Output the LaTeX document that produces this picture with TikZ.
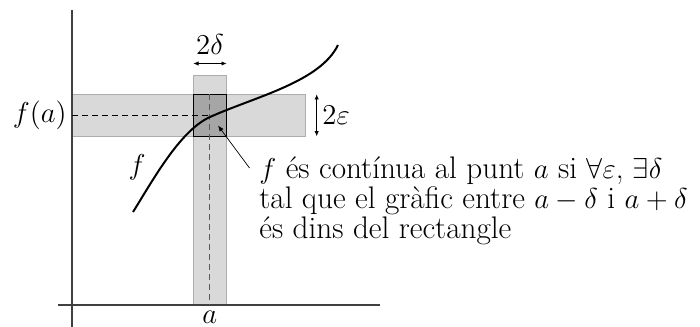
\documentclass[tikz,border=0pt]{standalone}
\usepackage{amsmath,amssymb}
\usepackage{tikz}
\usetikzlibrary{positioning, arrows.meta}

\begin{document}
\begin{tikzpicture}[
    x=0.5pt, y=-0.5pt,
    font=\fontsize{15.6}{15.2}\selectfont,
    axis/.style = {draw=black!75, line width=0.7pt},
    strip/.style = {fill=black!15, draw=black!32, line width=0.4pt},
    core/.style = {fill=black!35, draw=black, line width=0.5pt},
    guide/.style = {dashed, dash pattern=on 3pt off 2pt, line width=0.4pt},
    arrow/.style = {{Latex[length=2.6pt,width=2.2pt]}-{Latex[length=2.6pt,width=2.2pt]}, line width=0.4pt},
    pointer/.style = {-{Latex[length=3pt,width=2.4pt]}, line width=0.35pt}
]
    \useasboundingbox (0,0) rectangle (700,326);

    % bands around a and f(a)
    \filldraw[strip] (193.3,75.7) rectangle (226.7,305);
    \filldraw[strip] (72,94.3) rectangle (305.7,136.3);
    \filldraw[core] (193.3,94.3) rectangle (226.7,136.3);

    % axes
    \draw[axis] (72,10) -- (72,330);
    \draw[axis] (58,305) -- (380,305);

    % guides
    \coordinate (FA) at (72,115.3);
    \coordinate (P) at (209.7,115.3);
    \coordinate (TOP) at (209.7,94.3);
    \coordinate (A) at (209.7,305);
    \draw[guide] (FA) -- (P);
    \draw[guide, draw=black!65] (TOP) -- (A);

    % the graph
    \draw[line width=1pt] (133,212) .. controls (153,180) and (180,130.5) .. (210,117)
        .. controls (255,96.75) and (320,82) .. (338,45);

    % labels
    \node[anchor=east, inner sep=1pt] (FAL) at (69,115.3) {$f(a)$};
    \node (FL) at (137,167) {$f$};
    \node[anchor=north, inner sep=1pt] (AL) at (209.7,309) {$a$};

    \coordinate (DL) at (193.3,63.5);
    \coordinate (DR) at (226.7,63.5);
    \draw[arrow] (DL) -- (DR);
    \node (DELTA) at (210,45) {$2\delta$};

    \coordinate (EU) at (316.7,94.3);
    \coordinate (ED) at (316.7,136.3);
    \draw[arrow] (EU) -- (ED);
    \node[anchor=west, inner sep=1pt] (EPS) at (320,115.3) {$2\varepsilon$};

    % note
    \node[anchor=north west, align=left, inner sep=0pt] (NOTE) at (259,156)
        {$f$ és contínua al punt $a$ si $\forall\varepsilon$, $\exists\delta$\\
         tal que el gràfic entre $a-\delta$ i $a+\delta$\\
         és dins del rectangle};
    \coordinate (NS) at (249.5,168);
    \coordinate (NT) at (218,125.5);
    \draw[pointer] (NS) -- (NT);
\end{tikzpicture}
\end{document}
